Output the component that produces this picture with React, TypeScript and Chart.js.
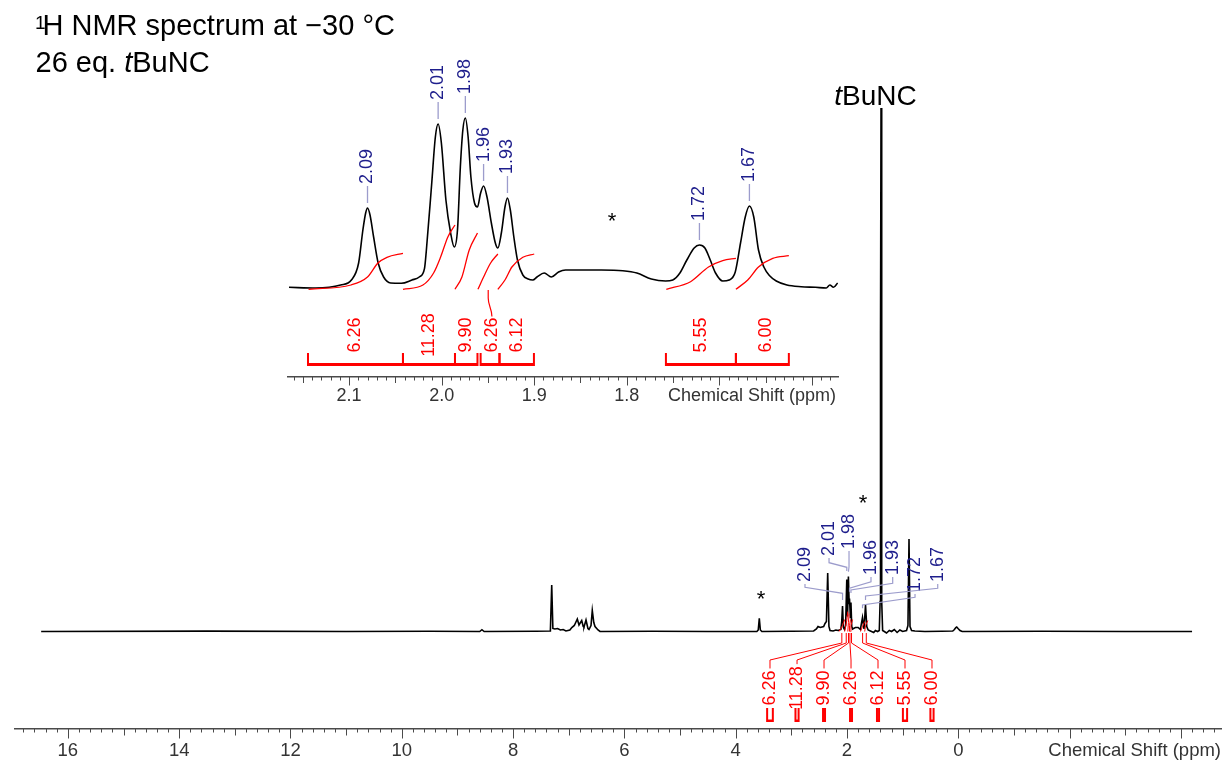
import React, { useEffect, useRef } from 'react';
import { Chart, registerables } from 'chart.js';

Chart.register(...registerables);

const FONT = '"Liberation Sans", Arial, Helvetica, sans-serif';
const W = 1223;
const H = 761;
const BLUE = '#1e1e8c';
const LEAD = '#9c9ccc';
const RED = '#ff0000';
const AXIS = '#4a4a4a';
const LABEL = '#333333';

// ---------------- main spectrum (ppm, arbitrary intensity) ----------------
const mainShift = [16.48, 13.5, 11.0, 9.5, 8.6, 8.56, 8.52, 7.6, 7.33, 7.306, 7.285, 7.25, 7.2, 7.15, 7.1, 7.05, 6.98, 6.945, 6.9, 6.846, 6.816, 6.767, 6.74, 6.726, 6.69, 6.655, 6.636, 6.6, 6.577, 6.55, 6.528, 6.474, 6.438, 5.5, 4.5, 3.62, 3.595, 3.576, 3.557, 3.53, 3.0, 2.6, 2.55, 2.521, 2.48, 2.42, 2.395, 2.37, 2.347, 2.325, 2.305, 2.25, 2.2, 2.16, 2.11, 2.095, 2.0805, 2.065, 2.045, 2.025, 2.0043, 1.99, 1.9751, 1.9616, 1.955, 1.9395, 1.9292, 1.915, 1.9, 1.85, 1.8, 1.76, 1.7215, 1.6945, 1.6675, 1.645, 1.62, 1.58, 1.52, 1.49, 1.45, 1.42, 1.405, 1.398, 1.389, 1.38, 1.373, 1.36, 1.33, 1.29, 1.24, 1.2, 1.15, 1.1, 1.05, 1.0, 0.93, 0.905, 0.886, 0.868, 0.84, 0.78, 0.6, 0.3, 0.1, 0.07, 0.045, 0.029, 0.005, -0.03, -0.07, -1.5, -3.0, -4.2];
const mainIntensity = [0, 0.4, 0, 0.3, 0, 1.8, 0, 0.2, 0.5, 46.5, 3, 2.5, 3, 1.5, 2, 0.5, 1.5, 4, 6, 12.5, 6.5, 11, 5, 4.5, 11.5, 3, 2, 6, 21, 9, 5, 1.5, 0, 0.3, 0, 0, 1.5, 13.3, 1.5, 0, 0.3, 0.5, 2.5, 5, 4, 5, 8, 10, 58.5, 5, 1, 0.5, 1.5, 1, 2, 10, 25.5, 4, 2, 6, 52, 15, 55, 28, 33, 14, 29, 5, 2.5, 4, 4, 2, 14, 2.5, 26.5, 5, 1.5, 0.5, -1, 1, 0, 1, 30, 300, 523.5, 300, 30, 1, 0, -1.5, 1, 0, 2, -1, 1.5, 0, 1, 6, 92.5, 5, 1, 0.5, 0, 0.3, 0.5, 2, 4, 4.5, 3, 1, 0, 0.3, 0, 0];

// ---------------- inset spectrum ----------------
const insetShift = [2.1649, 2.1361, 2.1091, 2.0975, 2.0897, 2.0851, 2.0821, 2.0801, 2.0774, 2.0735, 2.0686, 2.0627, 2.0551, 2.0435, 2.0321, 2.0242, 2.0185, 2.0165, 2.0107, 2.0068, 2.0038, 2.0003, 1.9954, 1.9903, 1.9864, 1.9829, 1.9798, 1.9771, 1.9744, 1.9714, 1.9684, 1.9645, 1.9613, 1.9579, 1.9547, 1.951, 1.9463, 1.942, 1.9393, 1.9355, 1.9316, 1.9289, 1.9258, 1.922, 1.9181, 1.9123, 1.9066, 1.9015, 1.897, 1.8892, 1.8815, 1.8737, 1.8661, 1.8275, 1.8043, 1.7891, 1.7735, 1.7581, 1.7503, 1.7426, 1.7351, 1.7272, 1.7215, 1.7156, 1.7098, 1.7041, 1.6963, 1.6894, 1.6828, 1.6771, 1.672, 1.6675, 1.6628, 1.6577, 1.6519, 1.6454, 1.6385, 1.627, 1.6115, 1.5961, 1.5845, 1.5806, 1.5767, 1.5722];
const insetIntensity = [0.7, 0, 3, 8, 25, 58, 75, 80, 73, 51, 25, 11, 5, 4.7, 8, 11, 19.7, 38, 105, 151, 164, 145, 88, 55, 41, 58, 121, 158, 170, 151, 111, 85, 81, 95, 102, 91, 65, 45, 40, 55, 81, 90, 78, 51, 28, 13, 9, 8, 11, 15, 11, 16, 18, 18, 17.3, 15, 9, 7, 8, 15, 28, 40, 43, 40, 28, 15, 7, 8, 16, 45, 71, 82, 71, 38, 21, 12, 7, 3, 1.3, 0.7, 0, 3, 0.7, 5];

// ---------------- peaks ----------------
const peakLabels = ['2.09', '2.01', '1.98', '1.96', '1.93', '1.72', '1.67'];
const peakShift = [2.0801, 2.0038, 1.9744, 1.9547, 1.9289, 1.7215, 1.6675];
const peakInsetHeight = [80, 164, 170, 102, 90, 43, 82];

// ---------------- integrals ----------------
const integralLabels = ['6.26', '11.28', '9.90', '6.26', '6.12', '5.55', '6.00'];
const integralStart = [2.1444, 2.0418, 1.9856, 1.9579, 1.9375, 1.7577, 1.6821];
const integralEnd = [2.0418, 1.9856, 1.9613, 1.9375, 1.9003, 1.6821, 1.6249];

const insetIntegralShift = [
  [2.1438, 2.098, 2.0801, 2.0688, 2.0591, 2.0418],
  [2.0418, 2.0202, 2.0087, 2.0011, 1.9933, 1.9856],
  [1.9856, 1.9781, 1.9702, 1.9613],
  [1.9608, 1.9547, 1.9471, 1.9393],
  [1.9393, 1.9316, 1.9241, 1.9123, 1.9],
  [1.7573, 1.7311, 1.7117, 1.6963, 1.6821],
  [1.6821, 1.6693, 1.6577, 1.6423, 1.6249],
];
const insetIntegralValue = [
  [-1.3, 3, 11, 25, 30.7, 34.7],
  [-1.3, 3, 15, 31, 51, 63],
  [-1.3, 11, 38, 55],
  [-1.3, 11, 25, 34],
  [-1.3, 8, 21, 30.7, 34],
  [-1.3, 6.3, 21, 27.3, 29.7],
  [-1.3, 8, 21, 29.7, 32.3],
];
const mainIntegralShift = [
  [2.1444, 2.08, 2.0418],
  [2.0418, 2.004, 1.9856],
  [1.9856, 1.975, 1.9613],
  [1.9579, 1.955, 1.9375],
  [1.9375, 1.929, 1.9003],
  [1.7577, 1.7215, 1.6821],
  [1.6821, 1.6675, 1.6249],
];
const mainIntegralValue = [
  [0, 6, 12],
  [0, 11, 20],
  [0, 9, 18],
  [0, 6, 12],
  [0, 6, 12],
  [0, 5, 10],
  [0, 6, 11],
];

// ---------------- axis tick labels ----------------
const mainTickValues = [16, 14, 12, 10, 8, 6, 4, 2, 0];
const insetTickValues = [2.1, 2.0, 1.9, 1.8];
const axisTitle = 'Chemical Shift (ppm)';

// ---------------- annotation placement ----------------
const mainPeakLabelShift = [2.755, 2.323, 1.964, 1.569, 1.179, 0.778, 0.37];
const mainPeakLabelBase = [49.5, 75.5, 82.5, 56.5, 56.5, 39.5, 49.5];
const mainPeakLeader = [
  [44.2, 38.2, 31.5],
  [68.8, 64.2, 60.5],
  [64.8, 59.8, 59.8],
  [49.8, 43.2, 39.8],
  [48.2, 41.5, 38.5],
  [34.2, 26.5, 23.2],
  [43.2, 35.5, 31.5],
];
const mainIntLabelShift = [3.384, 2.898, 2.413, 1.928, 1.443, 0.958, 0.473];
const insetIntLabelShift = [2.0931, 2.0137, 1.9735, 1.9457, 1.9189, 1.7199, 1.6497];
const mainStars = [[3.545, 38.5], [1.712, 134.5]];
const insetStars = [[1.816, 73]];

function vText(ctx: CanvasRenderingContext2D, text: string, x: number, y: number, align: CanvasTextAlign) {
  ctx.save();
  ctx.translate(x, y);
  ctx.rotate(-Math.PI / 2);
  ctx.textAlign = align;
  ctx.textBaseline = 'middle';
  ctx.fillText(text, 0, 0);
  ctx.restore();
}

function isMult(v: number, step: number) {
  const r = v / step;
  return Math.abs(r - Math.round(r)) < 1e-6;
}

function drawTicks(ctx: CanvasRenderingContext2D, scale: any, med: number, maj: number, lens: number[]) {
  ctx.save();
  ctx.strokeStyle = AXIS;
  ctx.lineWidth = 1;
  const y0 = scale.top;
  for (const t of scale.ticks) {
    const v = t.value;
    const L = isMult(v, maj) ? lens[2] : isMult(v, med) ? lens[1] : lens[0];
    const x = Math.round(scale.getPixelForValue(v)) + 0.5;
    ctx.beginPath();
    ctx.moveTo(x, y0);
    ctx.lineTo(x, y0 + L);
    ctx.stroke();
  }
  ctx.restore();
}

function drawStar(ctx: CanvasRenderingContext2D, x: number, y: number) {
  ctx.save();
  ctx.fillStyle = '#000';
  ctx.font = `22px ${FONT}`;
  ctx.textAlign = 'center';
  ctx.textBaseline = 'alphabetic';
  ctx.fillText('*', x, y + 12.6);
  ctx.restore();
}

function drawBracket(ctx: CanvasRenderingContext2D, x1: number, x2: number, yTop: number, yBot: number, thick: number) {
  const a = Math.min(x1, x2);
  const b = Math.max(x1, x2);
  ctx.save();
  ctx.strokeStyle = RED;
  ctx.lineWidth = thick;
  ctx.beginPath();
  ctx.moveTo(a, yBot - thick / 2);
  ctx.lineTo(b, yBot - thick / 2);
  ctx.stroke();
  ctx.lineWidth = 2;
  ctx.beginPath();
  ctx.moveTo(a, yTop);
  ctx.lineTo(a, yBot);
  ctx.moveTo(b, yTop);
  ctx.lineTo(b, yBot);
  ctx.stroke();
  ctx.restore();
}

const mainDecor = {
  id: 'mainDecor',
  afterDraw(chart: any) {
    const ctx: CanvasRenderingContext2D = chart.ctx;
    const xs = chart.scales.x;
    const ys = chart.scales.y;
    drawTicks(ctx, xs, 1, 2, [4, 7, 10]);

    ctx.save();
    ctx.fillStyle = LABEL;
    ctx.font = `18.5px ${FONT}`;
    ctx.textAlign = 'right';
    ctx.textBaseline = 'middle';
    ctx.fillText(axisTitle, chart.chartArea.right, xs.top + 22);
    ctx.restore();

    // title
    ctx.save();
    ctx.fillStyle = '#000';
    ctx.textAlign = 'left';
    ctx.textBaseline = 'alphabetic';
    ctx.font = `19px ${FONT}`;
    ctx.fillText('1', 35, 28.5);
    ctx.font = `29px ${FONT}`;
    ctx.fillText('H NMR spectrum at \u221230 \u00b0C', 42.5, 35);
    let x = 35.5;
    const a = '26 eq. ';
    ctx.fillText(a, x, 72);
    x += ctx.measureText(a).width;
    ctx.font = `italic 29px ${FONT}`;
    ctx.fillText('t', x, 72);
    x += ctx.measureText('t').width;
    ctx.font = `29px ${FONT}`;
    ctx.fillText('BuNC', x, 72);

    // tBuNC label
    let tx = xs.getPixelForValue(2.23);
    const ty = ys.getPixelForValue(526.5);
    ctx.font = `italic 28px ${FONT}`;
    ctx.fillText('t', tx, ty);
    tx += ctx.measureText('t').width;
    ctx.font = `28px ${FONT}`;
    ctx.fillText('BuNC', tx, ty);
    ctx.restore();

    mainStars.forEach(([p, v]) => drawStar(ctx, xs.getPixelForValue(p), ys.getPixelForValue(v)));

    // blue peak labels with leaders
    ctx.save();
    ctx.font = `18px ${FONT}`;
    peakLabels.forEach((lab, i) => {
      const lx = xs.getPixelForValue(mainPeakLabelShift[i]);
      const yb = ys.getPixelForValue(mainPeakLabelBase[i]);
      const px = xs.getPixelForValue(peakShift[i]);
      const [k1, k2, e] = mainPeakLeader[i];
      ctx.strokeStyle = LEAD;
      ctx.lineWidth = 1.2;
      ctx.beginPath();
      ctx.moveTo(lx, yb + 2);
      ctx.lineTo(lx, ys.getPixelForValue(k1));
      ctx.lineTo(px, ys.getPixelForValue(k2));
      ctx.lineTo(px, ys.getPixelForValue(e));
      ctx.stroke();
      ctx.fillStyle = BLUE;
      vText(ctx, lab, lx, yb, 'left');
    });
    ctx.restore();

    // red integral labels
    ctx.save();
    ctx.font = `18px ${FONT}`;
    const cy = ys.getPixelForValue(-56.5);
    integralLabels.forEach((lab, i) => {
      const lx = xs.getPixelForValue(mainIntLabelShift[i]);
      const w = ctx.measureText(lab).width;
      const rx = xs.getPixelForValue((integralStart[i] + integralEnd[i]) / 2);
      ctx.strokeStyle = RED;
      ctx.lineWidth = 1;
      ctx.beginPath();
      ctx.moveTo(lx, cy - w / 2 - 2);
      ctx.lineTo(lx, ys.getPixelForValue(-28.5));
      ctx.lineTo(rx, ys.getPixelForValue(-11.5));
      ctx.lineTo(rx, ys.getPixelForValue(-1.5));
      ctx.stroke();
      ctx.fillStyle = RED;
      vText(ctx, lab, lx, cy, 'center');
      const bw = Math.abs(xs.getPixelForValue(integralStart[i]) - xs.getPixelForValue(integralEnd[i]));
      const half = Math.max(bw, 2) / 2;
      drawBracket(ctx, lx - half, lx + half, ys.getPixelForValue(-76.5), ys.getPixelForValue(-90.5), 2.5);
    });
    ctx.restore();
  },
};

const insetDecor = {
  id: 'insetDecor',
  afterDraw(chart: any) {
    const ctx: CanvasRenderingContext2D = chart.ctx;
    const xs = chart.scales.x;
    const ys = chart.scales.y;
    drawTicks(ctx, xs, 0.05, 0.1, [4, 6.5, 9]);

    ctx.save();
    ctx.fillStyle = LABEL;
    ctx.font = `18px ${FONT}`;
    ctx.textAlign = 'right';
    ctx.textBaseline = 'middle';
    ctx.fillText(axisTitle, chart.chartArea.right - 2, xs.top + 20);
    ctx.restore();

    // peak labels
    ctx.save();
    ctx.font = `18px ${FONT}`;
    peakLabels.forEach((lab, i) => {
      const x = xs.getPixelForValue(peakShift[i]);
      const top = peakInsetHeight[i];
      ctx.strokeStyle = LEAD;
      ctx.lineWidth = 1.3;
      ctx.beginPath();
      ctx.moveTo(x, ys.getPixelForValue(top + 5));
      ctx.lineTo(x, ys.getPixelForValue(top + 22));
      ctx.stroke();
      ctx.fillStyle = BLUE;
      vText(ctx, lab, x, ys.getPixelForValue(top + 24), 'left');
    });
    ctx.restore();

    insetStars.forEach(([p, v]) => drawStar(ctx, xs.getPixelForValue(p), ys.getPixelForValue(v)));

    // integral brackets and values
    ctx.save();
    ctx.font = `18px ${FONT}`;
    const cy = ys.getPixelForValue(-47);
    integralLabels.forEach((lab, i) => {
      drawBracket(ctx, xs.getPixelForValue(integralStart[i]), xs.getPixelForValue(integralEnd[i]), ys.getPixelForValue(-65), ys.getPixelForValue(-78), 3);
      ctx.fillStyle = RED;
      vText(ctx, lab, xs.getPixelForValue(insetIntLabelShift[i]), cy, 'center');
    });
    // displaced label leader (4th integral)
    const w = ctx.measureText(integralLabels[3]).width;
    const lx = xs.getPixelForValue(insetIntLabelShift[3]);
    const rx = xs.getPixelForValue(1.9497);
    const y1 = cy - w / 2 - 1;
    const y2 = ys.getPixelForValue(-10);
    ctx.strokeStyle = RED;
    ctx.lineWidth = 1.2;
    ctx.beginPath();
    ctx.moveTo(lx, y1);
    ctx.bezierCurveTo(lx, y1 - 8, rx, y2 + 8, rx, y2);
    ctx.lineTo(rx, ys.getPixelForValue(-2));
    ctx.stroke();
    ctx.restore();
  },
};

function zip(xs: number[], ys: number[]) {
  const n = Math.min(xs.length, ys.length);
  const out: { x: number; y: number }[] = [];
  for (let i = 0; i < n; i++) out.push({ x: xs[i], y: ys[i] });
  return out;
}

function xAxis(min: number, max: number, step: number, tickLen: number, pad: number, size: number, height: number, labels: number[], digits: number) {
  return {
    type: 'linear',
    reverse: true,
    min,
    max,
    afterFit: (s: any) => {
      s.height = height;
    },
    border: { display: true, color: AXIS, width: 1.5 },
    grid: { display: true, drawOnChartArea: false, drawTicks: true, tickLength: tickLen, tickColor: 'rgba(0,0,0,0)' },
    ticks: {
      stepSize: step,
      autoSkip: false,
      includeBounds: false,
      maxRotation: 0,
      minRotation: 0,
      padding: pad,
      color: LABEL,
      font: { family: FONT, size, lineHeight: 1 },
      callback: (v: number) => {
        const hit = labels.find((t) => Math.abs(t - v) < 1e-6);
        return hit === undefined ? '' : hit.toFixed(digits);
      },
    },
  };
}

export default function App() {
  const mainRef = useRef<HTMLCanvasElement>(null);
  const insetRef = useRef<HTMLCanvasElement>(null);

  useEffect(() => {
    Chart.defaults.font.family = FONT;
    const main = new Chart(mainRef.current as HTMLCanvasElement, {
      type: 'line',
      data: {
        datasets: [
          ...mainIntegralShift.map((s, i) => ({
            data: zip(s, mainIntegralValue[i]),
            borderColor: RED,
            borderWidth: 1,
            pointRadius: 0,
            tension: 0,
            order: 0,
          })),
          {
            data: zip(mainShift, mainIntensity),
            borderColor: '#000',
            borderWidth: 1.6,
            pointRadius: 0,
            tension: 0,
            order: 1,
          },
        ],
      },
      options: {
        responsive: false,
        animation: false,
        events: [],
        layout: { padding: { left: 15, right: 2, top: 100, bottom: 0 } },
        plugins: { legend: { display: false }, tooltip: { enabled: false } },
        scales: {
          x: xAxis(-4.72, 16.95, 0.2, 10, 3, 18.5, 32.5, mainTickValues, 0),
          y: { type: 'linear', display: false, min: -97, max: 531.5 },
        },
      } as any,
      plugins: [mainDecor],
    } as any);

    const inset = new Chart(insetRef.current as HTMLCanvasElement, {
      type: 'line',
      data: {
        datasets: [
          ...insetIntegralShift.map((s, i) => ({
            data: zip(s, insetIntegralValue[i]),
            borderColor: RED,
            borderWidth: 1.3,
            pointRadius: 0,
            cubicInterpolationMode: 'monotone',
            order: 0,
          })),
          {
            data: zip(insetShift, insetIntensity),
            borderColor: '#000',
            borderWidth: 1.6,
            pointRadius: 0,
            cubicInterpolationMode: 'monotone',
            order: 1,
          },
        ],
      },
      options: {
        responsive: false,
        animation: false,
        events: [],
        layout: { padding: { left: 288, right: 385, top: 100, bottom: 354.5 } },
        plugins: { legend: { display: false }, tooltip: { enabled: false } },
        scales: {
          x: xAxis(1.5718, 2.166, 0.01, 9, 2, 18, 30, insetTickValues, 1),
          y: { type: 'linear', display: false, min: -88.5, max: 188 },
        },
      } as any,
      plugins: [insetDecor],
    } as any);

    return () => {
      main.destroy();
      inset.destroy();
    };
  }, []);

  return (
    <div style={{ position: 'absolute', left: 0, top: 0, width: W, height: H, background: '#fff' }}>
      <canvas ref={mainRef} width={W} height={H} style={{ position: 'absolute', left: 0, top: 0 }} />
      <canvas ref={insetRef} width={W} height={H} style={{ position: 'absolute', left: 0, top: 0 }} />
    </div>
  );
}
